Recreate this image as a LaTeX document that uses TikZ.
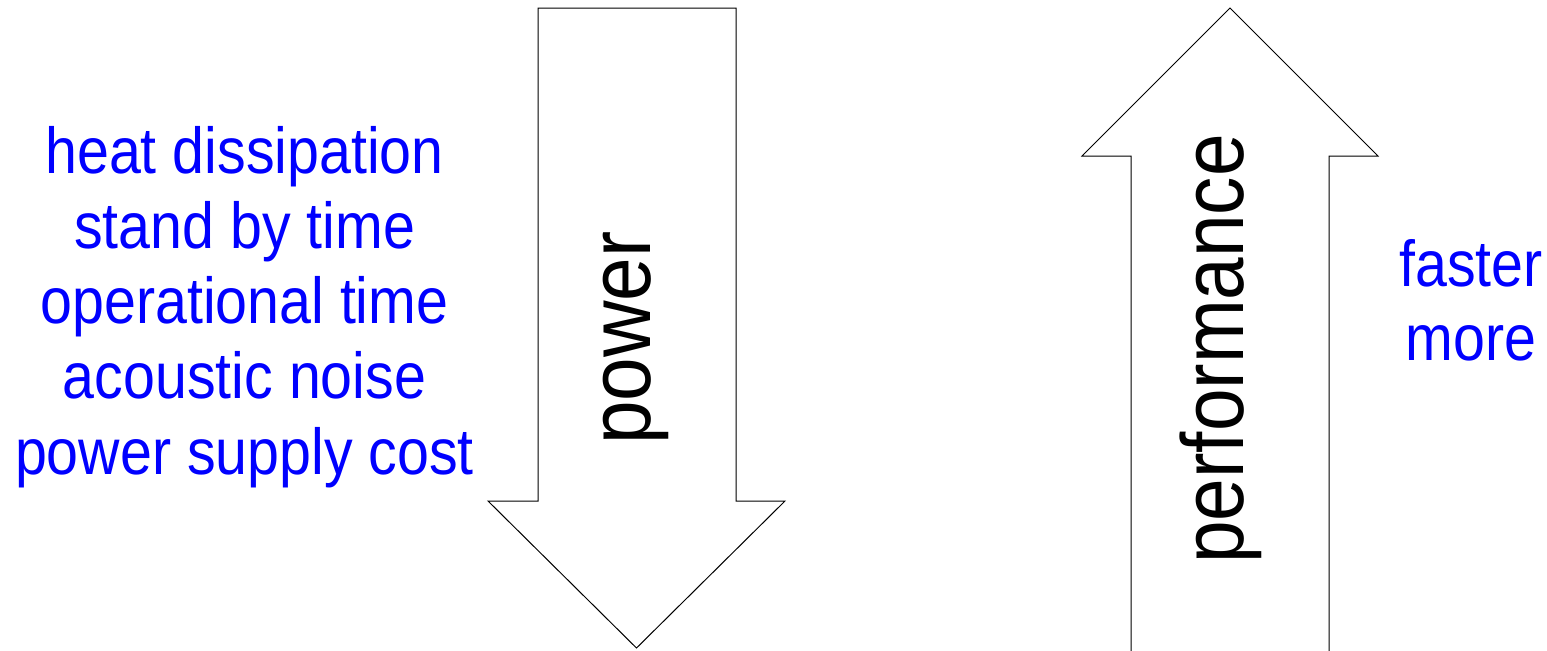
\documentclass[tikz,border=0pt]{standalone}
\usepackage{graphicx}
\usepackage{fontspec}
\setmainfont{Liberation Sans}
\begin{document}
\begin{tikzpicture}[x=0.5pt,y=-0.5pt,
  arrowshape/.style={draw=black, line width=0.5pt, fill=white, line join=miter},
  side/.style={text=blue, font=\fontsize{32.5}{37.5}\selectfont, inner sep=0pt, anchor=base},
  inlabel/.style={text=black, font=\fontsize{44}{50}\selectfont, inner sep=0pt, anchor=base, rotate=90}]
\useasboundingbox (0,0) rectangle (1547,650);
% down arrow
\draw[arrowshape] (538,8) -- (736,8) -- (736,501) -- (785,501) -- (636.5,648) -- (488,501) -- (538,501) -- cycle;
% up arrow (cut at the bottom edge)
\draw[arrowshape] (1131,652) -- (1131,156) -- (1082,156) -- (1230,8) -- (1378,156) -- (1329,156) -- (1329,652);
% labels inside arrows
\node[inlabel] (pw) at (650,338) {\scalebox{0.89}[1]{power}};
\node[inlabel] (pf) at (1243.3,349) {\scalebox{0.87}[1]{performance}};
% left list
\node[side] (l1) at (244.5,173.3) {\scalebox{0.882}[1]{heat dissipation}};
\node[side] (l2) at (244.5,248.3) {\scalebox{0.882}[1]{stand by time}};
\node[side] (l3) at (244.5,323.3) {\scalebox{0.882}[1]{operational time}};
\node[side] (l4) at (244.5,398.3) {\scalebox{0.882}[1]{acoustic noise}};
\node[side] (l5) at (244.5,474) {\scalebox{0.882}[1]{power supply cost}};
% right list
\node[side] (r1) at (1471,286) {\scalebox{0.882}[1]{faster}};
\node[side] (r2) at (1471,360.5) {\scalebox{0.882}[1]{more}};
\end{tikzpicture}
\end{document}
